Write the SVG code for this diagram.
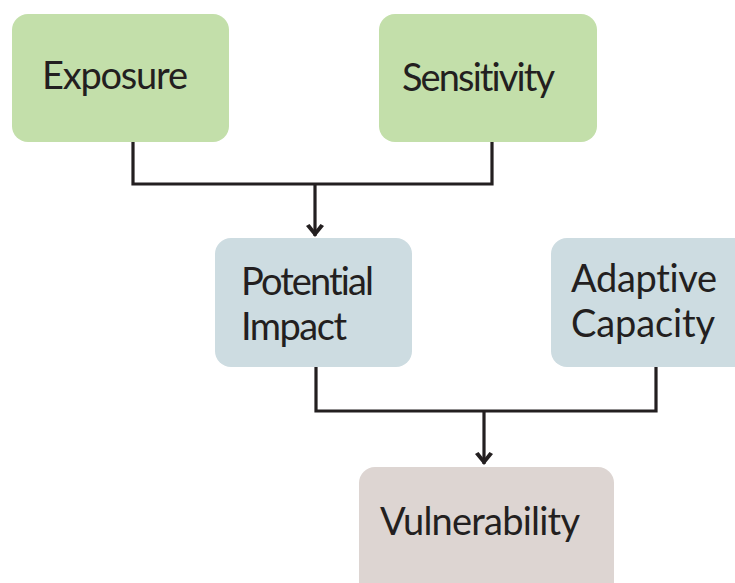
<svg xmlns="http://www.w3.org/2000/svg" width="735" height="583" viewBox="0 0 735 583">
<style>
.green{fill:#c3dfaa}
.blue{fill:#cddce1}
.rose{fill:#ddd5d2}
.lbl{font-family:Lato,"Liberation Sans",sans-serif;font-size:38px;fill:#231f20;font-variant-ligatures:none}
.wire{fill:none;stroke:#231f20;stroke-width:3.2}
</style>
<defs>
<marker id="ah" viewBox="0 0 18 18" refX="16" refY="9" markerWidth="18" markerHeight="18" markerUnits="userSpaceOnUse" orient="auto">
<path d="M6,0 L17,9 L6,18 L4,14.5 L11,9 L4,3.5 Z" fill="#231f20"/>
</marker>
</defs>
<rect width="735" height="583" fill="#ffffff"/>
<g id="connectors">
<path class="wire" d="M133,142 V184 H492 V142"/>
<path class="wire" d="M315,184 V236" marker-end="url(#ah)"/>
<path class="wire" d="M316,367 V411 H656 V367"/>
<path class="wire" d="M484,411 V464" marker-end="url(#ah)"/>
</g>
<g id="exposure">
<rect class="green" x="12" y="14" width="217" height="128" rx="16"/>
<text class="lbl" x="42" y="89" textLength="146">Exposure</text>
</g>
<g id="sensitivity">
<rect class="green" x="379" y="14" width="218" height="128" rx="16"/>
<text class="lbl" x="402" y="91" textLength="153">Sensitivity</text>
</g>
<g id="potential-impact">
<rect class="blue" x="215" y="238" width="197" height="129" rx="16"/>
<text class="lbl" x="241" y="295" textLength="133">Potential</text>
<text class="lbl" x="241" y="340" textLength="106">Impact</text>
</g>
<g id="adaptive-capacity">
<rect class="blue" x="551" y="238" width="200" height="129" rx="16"/>
<text class="lbl" x="571" y="292" textLength="146">Adaptive</text>
<text class="lbl" x="571" y="337" textLength="144">Capacity</text>
</g>
<g id="vulnerability">
<rect class="rose" x="359" y="467" width="255" height="140" rx="16"/>
<text class="lbl" x="380" y="535" textLength="200">Vulnerability</text>
</g>
</svg>
